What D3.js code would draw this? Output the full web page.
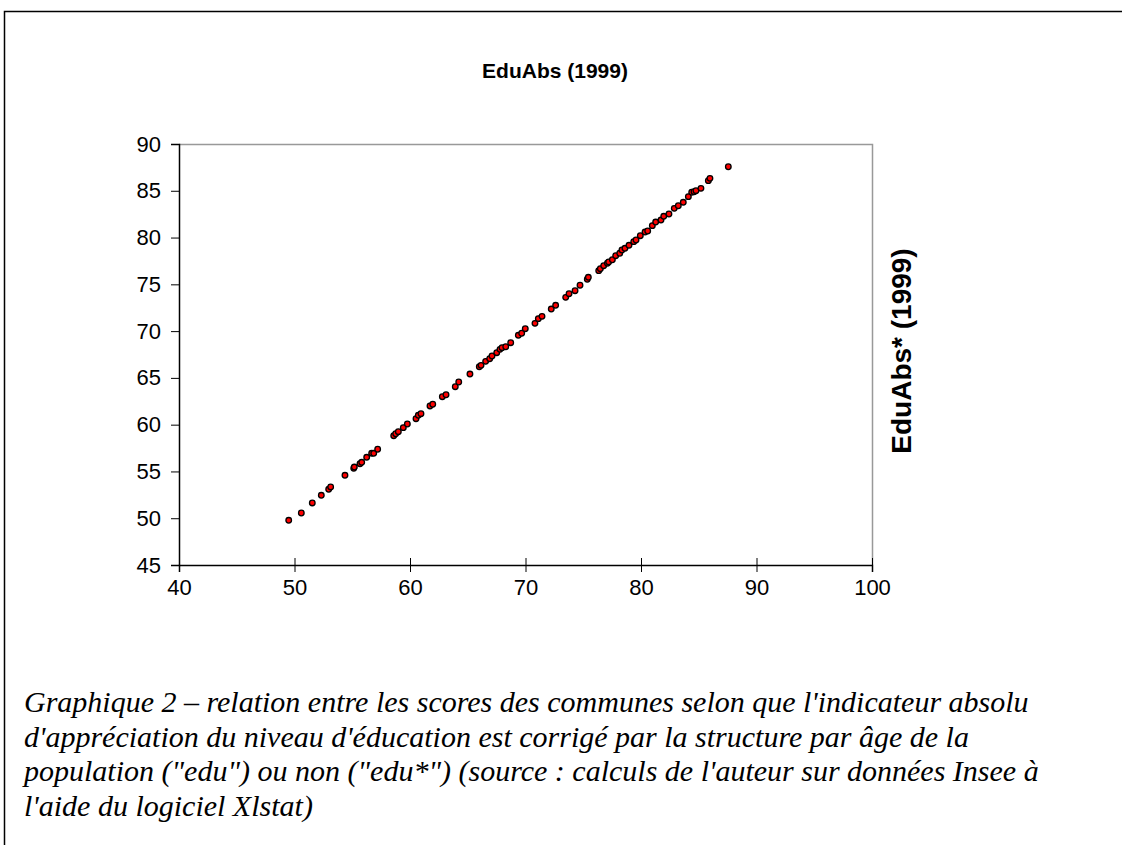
<!DOCTYPE html>
<html>
<head>
<meta charset="utf-8">
<script src="https://cdn.jsdelivr.net/npm/d3@7"></script>
<style>
  body { margin: 0; background: #fff; }
  svg { display: block; }
  .tick text { font-family: "Liberation Sans", Arial, sans-serif; font-size: 22px; fill: #000; }
</style>
</head>
<body>
<div id="chart"></div>
<script>
const width = 1122
const height = 845
const plot = { left: 179, top: 144, right: 872, bottom: 565 }

// EduAbs (1999) on x, EduAbs* (1999) on y, one point per commune
const eduAbs = [
  49.50, 50.59, 51.54, 52.32, 52.96, 53.13, 54.37, 55.13, 55.18, 55.67,
  55.82, 56.25, 56.68, 56.86, 57.20, 58.59, 58.76, 58.99, 59.42, 59.77,
  60.52, 60.72, 60.95, 61.73, 61.97, 62.80, 63.12, 63.92, 64.22, 65.19,
  66.00, 66.15, 66.55, 66.90, 67.10, 67.51, 67.79, 67.97, 68.29, 68.72,
  69.38, 69.67, 69.98, 70.82, 71.11, 71.43, 72.23, 72.61, 73.48, 73.77,
  74.29, 74.72, 75.35, 75.44, 76.34, 76.48, 76.77, 77.09, 77.20, 77.52,
  77.81, 78.16, 78.35, 78.61, 78.96, 79.37, 79.57, 79.94, 80.35, 80.58,
  80.98, 81.27, 81.73, 81.97, 82.42, 82.88, 83.23, 83.66, 84.10, 84.39,
  84.59, 84.76, 85.19, 85.83, 85.97, 87.56
]
const eduAbsStar = [
  49.78, 50.56, 51.63, 52.45, 53.09, 53.34, 54.59, 55.34, 55.47, 55.83,
  55.98, 56.51, 56.94, 56.94, 57.37, 58.82, 59.03, 59.25, 59.68, 60.07,
  60.64, 61.00, 61.17, 62.00, 62.18, 62.99, 63.20, 64.06, 64.56, 65.41,
  66.19, 66.34, 66.77, 67.05, 67.34, 67.69, 68.05, 68.23, 68.33, 68.76,
  69.55, 69.77, 70.26, 70.83, 71.33, 71.58, 72.36, 72.76, 73.61, 74.00,
  74.32, 74.90, 75.54, 75.75, 76.46, 76.67, 76.99, 77.25, 77.39, 77.63,
  78.06, 78.32, 78.67, 78.85, 79.17, 79.56, 79.74, 80.20, 80.59, 80.70,
  81.27, 81.66, 81.87, 82.27, 82.52, 83.12, 83.40, 83.77, 84.37, 84.84,
  84.90, 85.01, 85.26, 86.08, 86.33, 87.57
]
const xTicks = [40, 50, 60, 70, 80, 90, 100]
const yTicks = [45, 50, 55, 60, 65, 70, 75, 80, 85, 90]

const title = "EduAbs (1999)"
const yTitle = "EduAbs* (1999)"
const caption = [
  "Graphique 2 \u2013 relation entre les scores des communes selon que l'indicateur absolu",
  "d'appr\u00e9ciation du niveau d'\u00e9ducation est corrig\u00e9 par la structure par \u00e2ge de la",
  "population (\"edu\") ou non (\"edu*\") (source : calculs de l'auteur sur donn\u00e9es Insee \u00e0",
  "l'aide du logiciel Xlstat)"
]

let svg = d3.select("#chart").append("svg")
    .attr("width", width)
    .attr("height", height)

// page frame (top + left)
svg.append("path")
    .attr("d", `M4.5,${height} V11.5 H${width}`)
    .attr("fill", "none")
    .attr("stroke", "#000")
    .attr("stroke-width", 1.5)

let x = d3.scaleLinear().domain([40, 100]).range([plot.left, plot.right])
let y = d3.scaleLinear().domain([45, 90]).range([plot.bottom, plot.top])

// plot area border (top + right)
svg.append("path")
    .attr("d", `M${plot.left},${plot.top + 0.5} H${plot.right + 0.5} V${plot.bottom}`)
    .attr("fill", "none")
    .attr("stroke", "#999")
    .attr("stroke-width", 1.5)

let xAxis = svg.append("g")
    .attr("transform", `translate(0,${plot.bottom})`)
    .call(d3.axisBottom(x).tickValues(xTicks).tickSize(7).tickPadding(7))
xAxis.select(".domain").attr("stroke", "#000").attr("stroke-width", 1.5)
xAxis.selectAll(".tick line").attr("y1", -7).attr("stroke", "#000")

let yAxis = svg.append("g")
    .attr("transform", `translate(${plot.left},0)`)
    .call(d3.axisLeft(y).tickValues(yTicks).tickSize(8).tickPadding(10))
yAxis.select(".domain").attr("stroke", "#000").attr("stroke-width", 1.5)
yAxis.selectAll(".tick line").attr("stroke", "#000")

svg.append("g")
  .selectAll("circle")
  .data(d3.zip(eduAbs, eduAbsStar))
  .join("circle")
    .attr("cx", d => x(d[0]))
    .attr("cy", d => y(d[1]))
    .attr("r", 2.8)
    .attr("fill", "#ff0000")
    .attr("stroke", "#000")
    .attr("stroke-width", 1.3)

svg.append("text")
    .attr("x", 555)
    .attr("y", 78)
    .attr("text-anchor", "middle")
    .attr("font-family", "Liberation Sans, Arial, sans-serif")
    .attr("font-weight", "bold")
    .attr("font-size", 21)
    .text(title)

svg.append("text")
    .attr("transform", "translate(911,351) rotate(-90)")
    .attr("text-anchor", "middle")
    .attr("font-family", "Liberation Sans, Arial, sans-serif")
    .attr("font-weight", "bold")
    .attr("font-size", 28)
    .text(yTitle)

svg.append("g")
  .selectAll("text")
  .data(caption)
  .join("text")
    .attr("x", 24)
    .attr("y", (d, i) => 712 + i * 34.5)
    .attr("font-family", "Liberation Serif, Times New Roman, serif")
    .attr("font-style", "italic")
    .attr("font-size", 30)
    .text(d => d)
</script>
</body>
</html>
